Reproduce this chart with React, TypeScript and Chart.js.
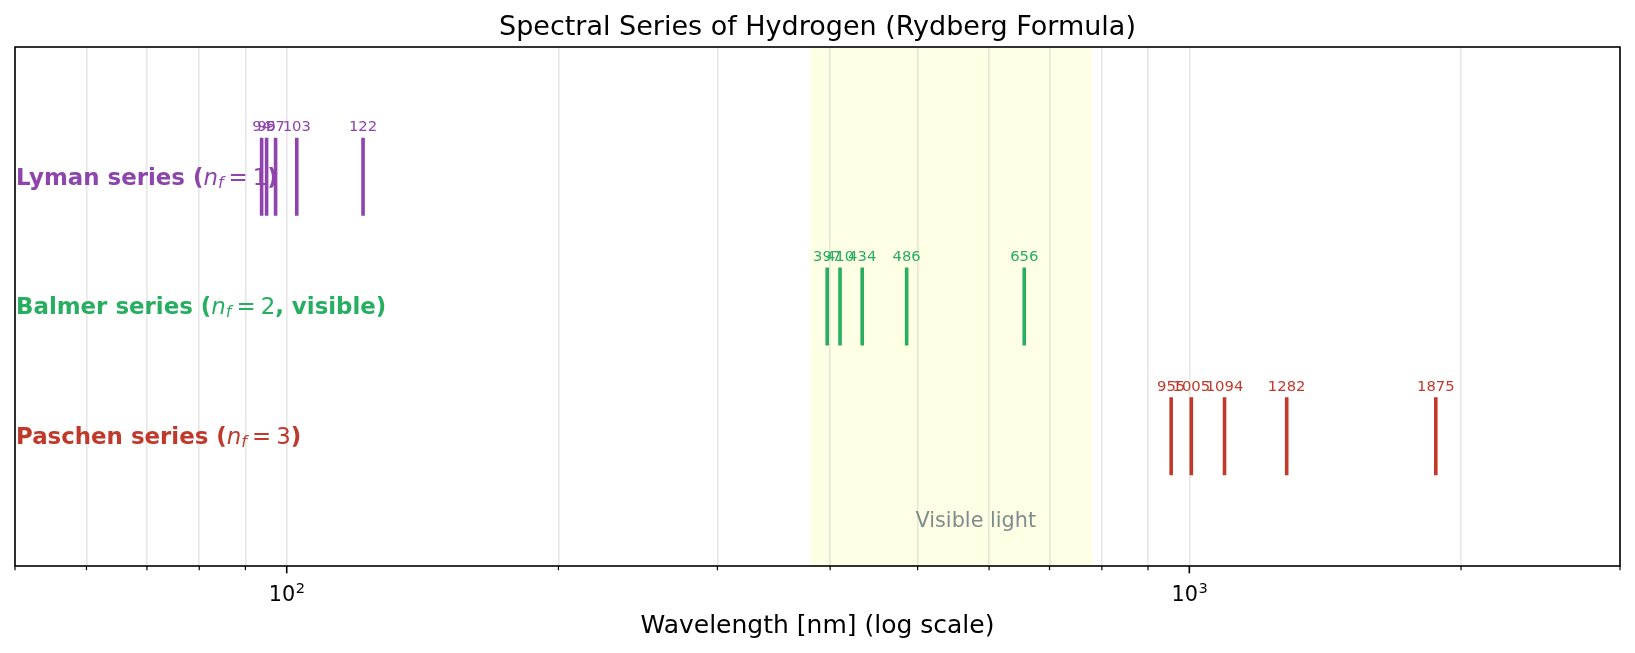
import React, { useEffect, useRef } from 'react';
import { Chart, registerables } from 'chart.js';

Chart.register(...registerables);

// ---------------- data ----------------
const xMin = 50;
const xMax = 3000;
const yMin = 0;
const yMax = 4;
const visibleRange = [380, 780];
const seriesY = [3, 2, 1];
const seriesColors = ['#8e44ad', '#27ae60', '#c0392b'];
const seriesPrefix = ['Lyman series (', 'Balmer series (', 'Paschen series ('];
const seriesNf = ['1', '2', '3'];
const seriesSuffix = [')', ', visible)', ')'];
const lymanNm = [121.5, 102.6, 97.2, 95.0, 93.8];
const balmerNm = [656.3, 486.2, 434.1, 410.2, 397.0];
const paschenNm = [1875.2, 1281.9, 1093.9, 1005.0, 954.7];
const lymanLabels = ['122', '103', '97', '95', '94'];
const balmerLabels = ['656', '486', '434', '410', '397'];
const paschenLabels = ['1875', '1282', '1094', '1005', '955'];
const tickValues = [50, 60, 70, 80, 90, 100, 200, 300, 400, 500, 600, 700, 800, 900, 1000, 2000, 3000];
const majorTickValues = [100, 1000];
const majorTickExponents = ['2', '3'];
const titleText = 'Spectral Series of Hydrogen (Rydberg Formula)';
const xAxisTitle = 'Wavelength [nm] (log scale)';
const visibleText = 'Visible light';

const seriesNm = [lymanNm, balmerNm, paschenNm];
const seriesLabels = [lymanLabels, balmerLabels, paschenLabels];

const W = 1635;
const H = 653;
const FONT = "'DejaVu Sans', 'Liberation Sans', sans-serif";

function buildSegments(values: number[], yc: number) {
  const pts: { x: number; y: number | null }[] = [];
  values.forEach((v) => {
    pts.push({ x: v, y: yc - 0.3 });
    pts.push({ x: v, y: yc + 0.3 });
    pts.push({ x: v, y: null });
  });
  return pts;
}

const decorPlugin = {
  id: 'decor',
  beforeDraw(chart: any) {
    const { ctx, chartArea } = chart;
    const xs = chart.scales.x;
    ctx.save();
    ctx.fillStyle = '#ffffff';
    ctx.fillRect(0, 0, chart.width, chart.height);
    const x0 = xs.getPixelForValue(visibleRange[0]);
    const x1 = xs.getPixelForValue(visibleRange[1]);
    ctx.fillStyle = 'rgba(255,255,0,0.1)';
    ctx.fillRect(x0, chartArea.top, x1 - x0, chartArea.bottom - chartArea.top);
    ctx.restore();
  },
  beforeDatasetsDraw(chart: any) {
    const { ctx, chartArea } = chart;
    const ys = chart.scales.y;
    const fs = 22.9;
    ctx.save();
    ctx.textBaseline = 'middle';
    ctx.textAlign = 'left';
    seriesY.forEach((yc, i) => {
      const y = ys.getPixelForValue(yc) + 1.8;
      let x = chartArea.left + 1;
      ctx.fillStyle = seriesColors[i];
      ctx.font = `bold ${fs}px ${FONT}`;
      ctx.fillText(seriesPrefix[i], x, y);
      x += ctx.measureText(seriesPrefix[i]).width;
      // math part: n_f = k
      ctx.font = `italic ${fs}px ${FONT}`;
      ctx.fillText('n', x, y);
      x += ctx.measureText('n').width;
      ctx.font = `italic ${fs * 0.7}px ${FONT}`;
      ctx.fillText('f', x, y + fs * 0.22);
      x += ctx.measureText('f').width;
      ctx.font = `${fs}px ${FONT}`;
      x += fs * 0.22;
      ctx.fillText('=', x, y);
      x += ctx.measureText('=').width + fs * 0.22;
      ctx.fillText(seriesNf[i], x, y);
      x += ctx.measureText(seriesNf[i]).width;
      ctx.font = `bold ${fs}px ${FONT}`;
      ctx.fillText(seriesSuffix[i], x, y);
    });
    ctx.restore();
  },
  afterDatasetsDraw(chart: any) {
    const { ctx, chartArea } = chart;
    const xs = chart.scales.x;
    const ys = chart.scales.y;
    ctx.save();
    // value labels
    ctx.font = `14.8px ${FONT}`;
    ctx.textAlign = 'center';
    ctx.textBaseline = 'alphabetic';
    seriesNm.forEach((vals, i) => {
      ctx.fillStyle = seriesColors[i];
      vals.forEach((v, j) => {
        ctx.fillText(seriesLabels[i][j], xs.getPixelForValue(v), ys.getPixelForValue(seriesY[i] + 0.35));
      });
    });
    // visible light text
    ctx.font = `20.8px ${FONT}`;
    ctx.fillStyle = '#7f8c8d';
    ctx.fillText(visibleText, xs.getPixelForValue((visibleRange[0] + visibleRange[1]) / 2), ys.getPixelForValue(0.3));

    // frame
    ctx.strokeStyle = '#000000';
    ctx.lineWidth = 1.6;
    ctx.strokeRect(chartArea.left, chartArea.top, chartArea.right - chartArea.left, chartArea.bottom - chartArea.top);

    // ticks
    tickValues.forEach((v) => {
      const px = xs.getPixelForValue(v);
      const major = majorTickValues.includes(v);
      ctx.lineWidth = major ? 1.6 : 1.2;
      ctx.beginPath();
      ctx.moveTo(px, chartArea.bottom);
      ctx.lineTo(px, chartArea.bottom + (major ? 7.3 : 4.2));
      ctx.stroke();
    });
    // tick labels
    ctx.fillStyle = '#000000';
    ctx.textAlign = 'left';
    majorTickValues.forEach((v, i) => {
      const px = xs.getPixelForValue(v);
      ctx.font = `20.8px ${FONT}`;
      const w1 = ctx.measureText('10').width;
      ctx.font = `14.6px ${FONT}`;
      const w2 = ctx.measureText(majorTickExponents[i]).width;
      const x0 = px - (w1 + w2) / 2;
      const base = 601;
      ctx.font = `20.8px ${FONT}`;
      ctx.fillText('10', x0, base);
      ctx.font = `14.6px ${FONT}`;
      ctx.fillText(majorTickExponents[i], x0 + w1 + 0.5, base - 7.8);
    });
    // title
    const cx = (chartArea.left + chartArea.right) / 2;
    ctx.textAlign = 'center';
    ctx.font = `27px ${FONT}`;
    ctx.fillText(titleText, cx, 34.5);
    // axis title
    ctx.font = `25px ${FONT}`;
    ctx.fillText(xAxisTitle, cx, 633);
    ctx.restore();
  },
};

export default function App() {
  const ref = useRef<HTMLCanvasElement | null>(null);
  useEffect(() => {
    document.body.style.margin = '0';
    const canvas = ref.current!;
    const chart = new Chart(canvas, {
      type: 'scatter',
      data: {
        datasets: seriesNm.map((vals, i) => ({
          label: seriesPrefix[i],
          data: buildSegments(vals, seriesY[i]),
          showLine: true,
          spanGaps: false,
          borderColor: seriesColors[i],
          backgroundColor: seriesColors[i],
          borderWidth: 3.6,
          borderCapStyle: 'butt',
          pointRadius: 0,
          pointHoverRadius: 0,
        })) as any,
      },
      options: {
        animation: false,
        responsive: false,
        devicePixelRatio: 1,
        layout: { padding: { left: 15, right: 15, top: 47, bottom: 87 } },
        plugins: {
          legend: { display: false },
          tooltip: { enabled: false },
          title: { display: false },
        },
        events: [],
        scales: {
          x: {
            type: 'logarithmic',
            min: xMin,
            max: xMax,
            display: true,
            afterBuildTicks: (scale: any) => {
              scale.ticks = tickValues.map((v) => ({ value: v, major: majorTickValues.includes(v) }));
            },
            afterFit: (scale: any) => {
              scale.height = 0;
            },
            ticks: { display: false },
            border: { display: false },
            grid: {
              display: true,
              drawTicks: false,
              drawOnChartArea: true,
              color: 'rgba(176,176,176,0.3)',
              lineWidth: 1.6,
            },
          },
          y: {
            type: 'linear',
            min: yMin,
            max: yMax,
            display: false,
          },
        },
      } as any,
      plugins: [decorPlugin],
    });
    return () => chart.destroy();
  }, []);
  return (
    <div style={{ position: 'fixed', left: 0, top: 0, width: W, height: H, background: '#fff' }}>
      <canvas ref={ref} width={W} height={H} style={{ width: W, height: H, display: 'block' }} />
    </div>
  );
}
